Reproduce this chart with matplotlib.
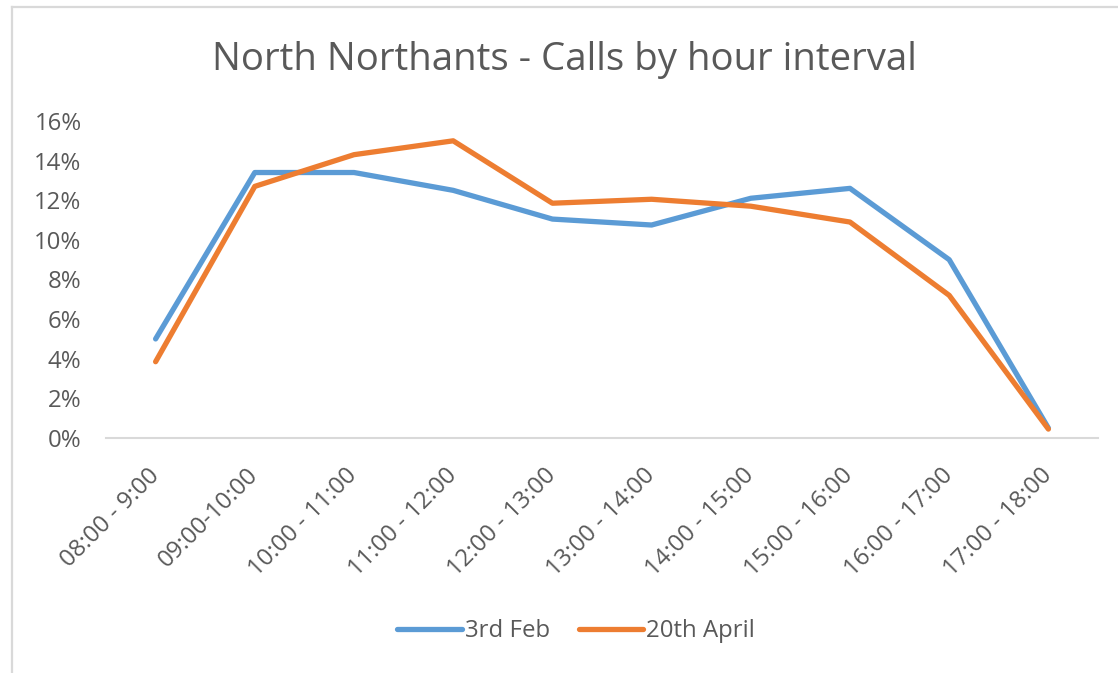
import matplotlib
matplotlib.use("Agg")
import matplotlib.pyplot as plt
from matplotlib.lines import Line2D
from matplotlib.ticker import FuncFormatter
from matplotlib.transforms import ScaledTranslation

categories = ["08:00 - 9:00", "09:00-10:00", "10:00 - 11:00", "11:00 - 12:00",
              "12:00 - 13:00", "13:00 - 14:00", "14:00 - 15:00", "15:00 - 16:00",
              "16:00 - 17:00", "17:00 - 18:00"]
feb3 = [0.050, 0.134, 0.134, 0.125, 0.1105, 0.1075, 0.121, 0.126, 0.090, 0.005]
apr20 = [0.0385, 0.127, 0.143, 0.150, 0.1185, 0.1205, 0.117, 0.109, 0.072, 0.0045]
series_names = ["3rd Feb", "20th April"]
yticks = [0, 0.02, 0.04, 0.06, 0.08, 0.10, 0.12, 0.14, 0.16]

plt.rcParams['font.family'] = ['Open Sans', 'DejaVu Sans']
TXT = '#595959'
W, H = 1118, 673
fig = plt.figure(figsize=(W / 100, H / 100), dpi=100)
ax = fig.add_axes([106 / W, 1 - 438 / H, (1098 - 106) / W, (438 - 121) / H])

x = list(range(len(categories)))
ax.plot(x, feb3, color='#5B9BD5', lw=3.8, solid_capstyle='round', solid_joinstyle='round', label=series_names[0])
ax.plot(x, apr20, color='#ED7D31', lw=3.8, solid_capstyle='round', solid_joinstyle='round', label=series_names[1])

ax.set_xlim(-0.5, len(categories) - 0.5)
ax.set_ylim(0, 0.16)
ax.set_yticks(yticks)
ax.yaxis.set_major_formatter(FuncFormatter(lambda v, p: f"{v*100:.0f}%"))
ax.set_xticks(x)
ax.set_xticklabels(categories, rotation=45, ha='right', va='center', rotation_mode='anchor')
off = ScaledTranslation(-3 / 100, 0, fig.dpi_scale_trans)
for lbl in ax.get_xticklabels():
    lbl.set_transform(lbl.get_transform() + off)
ax.tick_params(axis='y', length=0, pad=17.5, labelsize=17.3, labelcolor=TXT)
ax.tick_params(axis='x', length=0, pad=24.5, labelsize=17.3, labelcolor=TXT)
for s in ['top', 'right', 'left']:
    ax.spines[s].set_visible(False)
ax.spines['bottom'].set_color('#D9D9D9')
ax.spines['bottom'].set_linewidth(1.5)

fig.text(564 / W, 1 - 60 / H, "North Northants - Calls by hour interval",
         ha='center', va='center', fontsize=27.6, color=TXT)

leg = fig.legend(loc='center', bbox_to_anchor=(576 / W, 1 - 631 / H), ncol=2,
                 frameon=False, fontsize=17.3, handlelength=2.7, handletextpad=0.12,
                 columnspacing=1.2, labelcolor=TXT)

# chart border (partial, as in cropped screenshot)
fig.add_artist(Line2D([12 / W, 1], [1 - 6.5 / H, 1 - 6.5 / H], color='#D9D9D9', lw=1.6, transform=fig.transFigure))
fig.add_artist(Line2D([12 / W, 12 / W], [1 - 6.5 / H, 0], color='#D9D9D9', lw=1.6, transform=fig.transFigure))

fig.savefig("out.png", dpi=100, facecolor='white')
